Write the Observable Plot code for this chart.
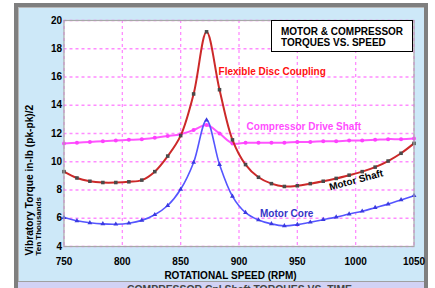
<!DOCTYPE html>
<html><head><meta charset="utf-8">
<script src="https://cdn.jsdelivr.net/npm/d3@7"></script>
<script src="https://cdn.jsdelivr.net/npm/@observablehq/plot@0.6"></script>
<style>
body{margin:0;background:#fff;}
#wrap{position:relative;width:435px;height:288px;overflow:hidden;font-family:Arial,"Liberation Sans",sans-serif;}
#frame{position:absolute;left:14px;top:3px;width:406px;height:300px;border:4px solid #7f7f7f;background:#cde8f8;box-shadow:inset 1px 1px 0 #b8b8b8;}
#strip{position:absolute;left:18px;top:281px;width:406px;height:12px;background:#d2d2f4;border-top:1px solid #a0a0a0;}
#striptext{position:absolute;left:127px;top:284px;font-weight:bold;font-size:10.4px;line-height:12px;color:#444;white-space:nowrap;}
#chart{position:absolute;left:0;top:0;}
#title{position:absolute;left:271px;top:20px;width:142px;height:32px;box-sizing:border-box;border:1.5px solid #000;background:#fff;padding:4.5px 0 0 9px;font-weight:bold;font-size:10px;line-height:11.6px;color:#000;z-index:5;}
</style></head>
<body>
<div id="wrap">
  <div id="frame"></div>
  <div id="strip"></div>
  <div id="striptext">COMPRESSOR Cpl Shaft TORQUES VS. TIME</div>
  <div id="chart"></div>
  <div id="title">MOTOR &amp; COMPRESSOR<br>TORQUES VS. SPEED</div>
</div>
<script>
// Rotational speed (RPM) sample points
const rpm = [750.0, 761.1, 772.2, 783.3, 794.4, 805.6, 816.7, 827.8, 838.9, 850.0, 861.1, 872.2, 883.3, 894.4,
             905.6, 916.7, 927.8, 938.9, 950.0, 961.1, 972.2, 983.3, 994.4, 1005.6, 1016.7, 1027.8, 1038.9, 1050.0];
// Flexible Disc Coupling / Motor Shaft (ten thousands in-lb)
const coupling = [9.3, 8.85, 8.62, 8.53, 8.53, 8.58, 8.7, 9.3, 10.4, 11.85, 14.8, 19.2, 15.1, 11.55,
                  9.8, 8.9, 8.45, 8.25, 8.3, 8.45, 8.62, 8.82, 9.05, 9.3, 9.62, 10.05, 10.6, 11.3];
// Compressor Drive Shaft
const compressor = [11.3, 11.35, 11.4, 11.45, 11.5, 11.55, 11.6, 11.7, 11.82, 11.95, 12.25, 12.6, 12.0, 11.3,
                    11.35, 11.35, 11.35, 11.35, 11.4, 11.4, 11.45, 11.45, 11.5, 11.5, 11.55, 11.6, 11.6, 11.65];
// Motor Core
const motorCore = [6.05, 5.82, 5.68, 5.6, 5.58, 5.65, 5.85, 6.25, 6.9, 8.05, 9.95, 12.95, 9.8, 7.55,
                   6.4, 5.88, 5.6, 5.46, 5.55, 5.72, 5.9, 6.08, 6.3, 6.5, 6.75, 7.0, 7.3, 7.6];

const xTicks = [750, 800, 850, 900, 950, 1000, 1050];
const yTicks = [4, 6, 8, 10, 12, 14, 16, 18, 20];

const curveLabels = [
  {text: "Flexible Disc Coupling", x: 882.5, y: 16.4, color: "#ff1010"},
  {text: "Compressor Drive Shaft", x: 906.5, y: 12.45, color: "#ff4dff"},
  {text: "Motor Core", x: 918, y: 6.33, color: "#3434c8"}
];
const shaftLabel = [{text: "Motor Shaft", x: 1000.4, y: 8.7}];

const rows = (vals) => rpm.map((r, i) => ({rpm: r, v: vals[i]}));
const cplRows = rows(coupling), cmpRows = rows(compressor), coreRows = rows(motorCore);

const font = "Arial, 'Liberation Sans', sans-serif";
const chart = Plot.plot({
  width: 435, height: 288,
  marginLeft: 63.5, marginRight: 21.5, marginTop: 20, marginBottom: 42,
  style: {background: "transparent", fontFamily: font, fontSize: "10px", color: "#000"},
  x: {domain: [750, 1050]},
  y: {domain: [4, 20]},
  marks: [
    Plot.frame({fill: "white", stroke: null}),
    Plot.gridX(xTicks, {stroke: "#ff8cff", strokeOpacity: 1, strokeWidth: 1.3, strokeDasharray: "3,3"}),
    Plot.gridY(yTicks, {stroke: "#ff8cff", strokeOpacity: 1, strokeWidth: 1.3, strokeDasharray: "3,3"}),
    Plot.axisX(xTicks, {tickSize: 0, tickPadding: 11, label: null, tickFormat: d => String(d), fontWeight: "bold", fontSize: 10, fill: "#000"}),
    Plot.axisY(yTicks, {tickSize: 0, tickPadding: 2, label: null, tickFormat: d => String(d), fontWeight: "bold", fontSize: 10, fill: "#000"}),
    Plot.line(cmpRows, {x: "rpm", y: "v", stroke: "#ff55ff", strokeWidth: 2, curve: "catmull-rom"}),
    Plot.dot(cmpRows, {x: "rpm", y: "v", fill: "#ff40ff", r: 2, symbol: "circle"}),
    Plot.line(coreRows, {x: "rpm", y: "v", stroke: "#5555ff", strokeWidth: 1.6, curve: "catmull-rom"}),
    Plot.dot(coreRows, {x: "rpm", y: "v", fill: "#3a3ae0", r: 1.8, symbol: "triangle"}),
    Plot.line(cplRows, {x: "rpm", y: "v", stroke: "#cc2929", strokeWidth: 2, curve: "catmull-rom"}),
    Plot.dot(cplRows, {x: "rpm", y: "v", fill: "#4a4a4a", r: 2, symbol: "square"}),
    Plot.frame({stroke: "#a8a8a8", strokeWidth: 1.2}),
    Plot.text(curveLabels, {x: "x", y: "y", text: "text", fill: "color", textAnchor: "start", fontWeight: "bold", fontSize: 10}),
    Plot.text(shaftLabel, {x: "x", y: "y", text: "text", fill: "#000", rotate: -15, textAnchor: "middle", fontWeight: "bold", fontSize: 10}),
    Plot.text(["Vibratory Torque in-lb (pk-pk)/2"], {frameAnchor: "bottom-left", text: d => d, rotate: -90, textAnchor: "start", lineAnchor: "middle", dx: -34.5, dy: 9, fontWeight: "bold", fontSize: 10.2, fill: "#000"}),
    Plot.text(["Ten Thousands"], {frameAnchor: "bottom-left", text: d => d, rotate: -90, textAnchor: "start", lineAnchor: "middle", dx: -25.2, dy: 9, fontWeight: "bold", fontSize: 8, fill: "#000"}),
    Plot.text(["ROTATIONAL SPEED (RPM)"], {frameAnchor: "bottom", text: d => d, lineAnchor: "middle", dx: -8.5, dy: 29, fontWeight: "bold", fontSize: 10, fill: "#000"})
  ]
});
document.getElementById("chart").appendChild(chart);
</script>
</body></html>
